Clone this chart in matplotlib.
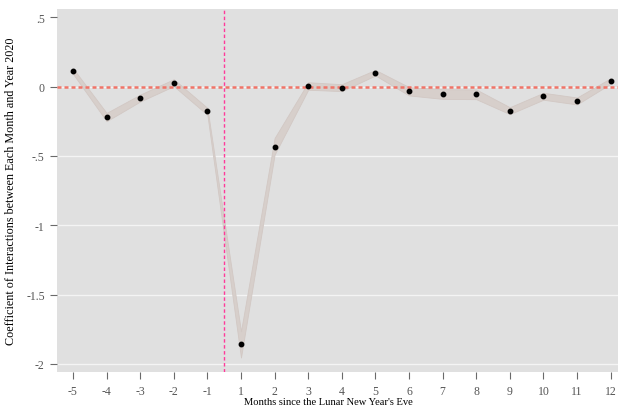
import numpy as np
import matplotlib
matplotlib.use("Agg")
import matplotlib.pyplot as plt

# months relative to the Lunar New Year's Eve (no month 0)
months = [-5, -4, -3, -2, -1, 1, 2, 3, 4, 5, 6, 7, 8, 9, 10, 11, 12]
coef = [0.113, -0.219, -0.082, 0.029, -0.178, -1.859, -0.437, 0.005, -0.007,
        0.101, -0.033, -0.053, -0.055, -0.173, -0.069, -0.103, 0.041]
ci_low = [0.093, -0.249, -0.107, 0.004, -0.203, -1.954, -0.490, -0.022, -0.032,
          0.081, -0.063, -0.088, -0.090, -0.198, -0.094, -0.128, 0.021]
ci_high = [0.133, -0.189, -0.057, 0.054, -0.153, -1.764, -0.370, 0.032, 0.018,
           0.121, -0.003, -0.018, -0.020, -0.148, -0.044, -0.078, 0.061]
yticks = [0.5, 0, -0.5, -1, -1.5, -2]
ytick_labels = [".5", "0", "-.5", "-1", "-1.5", "-2"]

plt.rcParams["font.family"] = ["Liberation Serif", "DejaVu Serif"]

fig = plt.figure(figsize=(6.18, 4.06), dpi=100)
ax = fig.add_axes([0.0927, 0.0805, 0.9073, 0.8949])
ax.set_facecolor("#e0e0e0")

pos = np.arange(len(months))

# white grid, leaving out the top line
for y in yticks[1:]:
    ax.axhline(y, color="#f4f4f4", lw=1.0, zorder=1)

ax.fill_between(pos, ci_low, ci_high, color="#d7cfcb", lw=0.6,
                edgecolor="#d2c8c4", zorder=2)
ax.plot(pos, coef, "o", color="black", ms=3.2, zorder=4)

ax.axhline(0, color="#f07468", lw=1.8, ls=(0, (1.6, 1.2)), zorder=3)
ax.axvline(4.5, color="#ff3a9a", lw=1.0, ls=(0, (2.5, 1.8)), zorder=3)

ax.set_xlim(-0.467, 16.22)
ax.set_ylim(-2.0606, 0.5606)
ax.set_xticks(pos)
ax.set_xticklabels([str(m) for m in months])
ax.set_yticks(yticks)
ax.set_yticklabels(ytick_labels)
ax.tick_params(axis="both", colors="#6a6a6a", labelcolor="#555555",
               labelsize=8.5, length=5, width=0.8)
ax.tick_params(axis="x", pad=4)
ax.tick_params(axis="y", pad=4)

for side in ax.spines.values():
    side.set_visible(False)

ax.set_ylabel("Coefficient of Interactions between Each Month and Year 2020",
              fontsize=8.7, color="black")
ax.yaxis.set_label_coords(-0.072, 0.5)
ax.set_xlabel("Months since the Lunar New Year's Eve", fontsize=7.6,
              color="black")
ax.xaxis.set_label_coords(0.483, -0.067)

fig.savefig("out.png", dpi=100)
